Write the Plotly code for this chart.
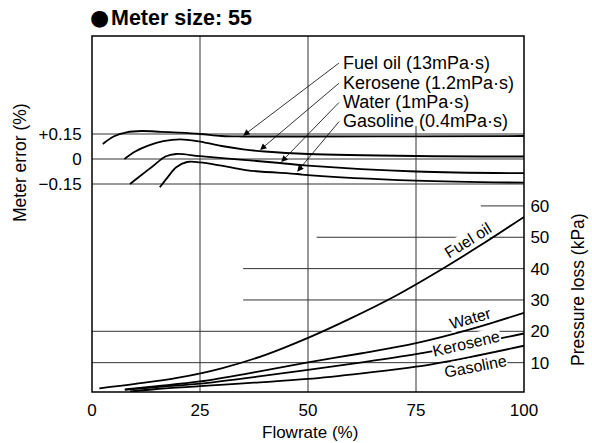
import plotly.graph_objects as go

# ---------------- data ----------------
# Meter error (%) vs flowrate (%)
fuel_err_x = [2.5, 5, 8, 11.5, 16, 20, 25, 30, 35, 50, 75, 100]
fuel_err_y = [0.09, 0.135, 0.16, 0.168, 0.163, 0.158, 0.15, 0.138, 0.135, 0.135, 0.136, 0.138]

kero_err_x = [7.5, 10, 13, 16.5, 20.5, 25, 30, 35, 40, 50, 75, 100]
kero_err_y = [0.0, 0.045, 0.08, 0.107, 0.118, 0.104, 0.078, 0.058, 0.045, 0.03, 0.018, 0.015]

water_err_x = [8.8, 11, 14, 17, 19.5, 25, 35, 43.5, 50, 75, 100]
water_err_y = [-0.15, -0.105, -0.045, 0.015, 0.03, 0.017, -0.005, -0.024, -0.04, -0.075, -0.085]

gas_err_x = [15.7, 17.5, 19.5, 22, 25, 30, 36, 47.5, 50, 75, 100]
gas_err_y = [-0.17, -0.11, -0.05, -0.018, -0.02, -0.04, -0.068, -0.09, -0.097, -0.13, -0.142]

# Pressure loss (kPa) vs flowrate (%)
fuel_pl_x = [1.7, 10, 20, 30, 40, 50, 60, 70, 80, 90, 100]
fuel_pl_y = [1.8, 3.2, 5.2, 8.2, 12.4, 17.9, 24.2, 31.1, 39.0, 47.5, 56.5]

water_pl_x = [7.6, 15, 25, 37.5, 50, 62.5, 75, 87.5, 100]
water_pl_y = [1.5, 2.5, 4.0, 6.9, 10.1, 13.0, 16.2, 20.6, 25.9]

kero_pl_x = [7.6, 15, 25, 37.5, 50, 62.5, 75, 87.5, 100]
kero_pl_y = [1.3, 2.2, 3.3, 5.4, 7.7, 10.1, 12.7, 15.8, 19.3]

gas_pl_x = [8.8, 15, 25, 37.5, 50, 62.5, 75, 87.5, 100]
gas_pl_y = [0.8, 1.6, 2.5, 3.6, 4.8, 6.6, 8.7, 11.8, 15.4]

x_ticks = [0, 25, 50, 75, 100]
err_ticks = [-0.15, 0, 0.15]
err_ticktext = ["\u22120.15", "0", "+0.15"]
pl_ticks = [10, 20, 30, 40, 50, 60]

# pressure guide lines: (value, start flowrate)
pl_guides = [(10, 0), (20, 0), (30, 35), (40, 35), (50, 52), (60, 90)]

FONT = "Liberation Sans, Arial, Helvetica, sans-serif"

fig = go.Figure()

line_style = dict(color="black", width=1.8, shape="spline", smoothing=1.0)
for xs, ys in [(fuel_err_x, fuel_err_y), (kero_err_x, kero_err_y),
               (water_err_x, water_err_y), (gas_err_x, gas_err_y)]:
    fig.add_trace(go.Scatter(x=xs, y=ys, mode="lines", line=line_style,
                             yaxis="y", showlegend=False, hoverinfo="skip"))
for xs, ys in [(fuel_pl_x, fuel_pl_y), (water_pl_x, water_pl_y),
               (kero_pl_x, kero_pl_y), (gas_pl_x, gas_pl_y)]:
    fig.add_trace(go.Scatter(x=xs, y=ys, mode="lines", line=line_style,
                             yaxis="y2", showlegend=False, hoverinfo="skip"))

shapes = []
grid = dict(color="#333333", width=1)
# vertical lines
for v in [25, 50]:
    shapes.append(dict(type="line", xref="x", yref="paper", x0=v, x1=v, y0=0, y1=1,
                       line=grid, layer="below"))
shapes.append(dict(type="line", xref="x", yref="y", x0=75, x1=75, y0=-1.398, y1=0.198,
                   line=grid, layer="below"))
# meter error guide lines
for v in err_ticks:
    shapes.append(dict(type="line", xref="x", yref="y", x0=0, x1=100, y0=v, y1=v,
                       line=grid, layer="below"))
# pressure guide lines
for v, s in pl_guides:
    shapes.append(dict(type="line", xref="x", yref="y2", x0=s, x1=100, y0=v, y1=v,
                       line=grid, layer="below"))
# frame
shapes.append(dict(type="rect", xref="paper", yref="paper", x0=0, x1=1, y0=0, y1=1,
                   line=dict(color="black", width=1.5)))

annotations = []
# title
annotations.append(dict(text="\u25cf", xref="paper", yref="paper",
                        x=0.0175, y=1.052, xanchor="center", yanchor="middle", showarrow=False,
                        font=dict(family="DejaVu Sans", size=22, color="black")))
annotations.append(dict(text="<b>Meter size: 55</b>",
                        xref="paper", yref="paper",
                        x=0.039, y=1.0506, xanchor="left", yanchor="middle", showarrow=False,
                        font=dict(family=FONT, size=21.5, color="black")))
# axis titles
annotations.append(dict(text="Flowrate (%)", xref="paper", yref="paper", x=0.505, y=-0.115,
                        xanchor="center", yanchor="middle", showarrow=False,
                        font=dict(family=FONT, size=17, color="black")))
annotations.append(dict(text="Meter error (%)", xref="paper", yref="paper", x=-0.1667, y=0.646,
                        xanchor="center", yanchor="middle", showarrow=False, textangle=-90,
                        font=dict(family=FONT, size=17.5, color="black")))
annotations.append(dict(text="Pressure loss (kPa)", xref="paper", yref="paper", x=1.125, y=0.2865,
                        xanchor="center", yanchor="middle", showarrow=False, textangle=-90,
                        font=dict(family=FONT, size=17.5, color="black")))

# upper legend texts with arrows
legend_texts = ["Fuel oil (13mPa\u00b7s)", "Kerosene (1.2mPa\u00b7s)",
                "Water (1mPa\u00b7s)", "Gasoline (0.4mPa\u00b7s)"]
legend_y = [0.576, 0.459, 0.342, 0.226]
arrow_tail_y = [0.582, 0.462, 0.348, 0.234]
arrow_tip = [(35.0, 0.140), (38.9, 0.054), (43.8, -0.018), (47.5, -0.076)]
for t, ly, ty, (tx, tyy) in zip(legend_texts, legend_y, arrow_tail_y, arrow_tip):
    annotations.append(dict(text=t, xref="x", yref="y", x=57.6, y=ly, xanchor="left",
                            yanchor="middle", showarrow=False,
                            font=dict(family=FONT, size=18, color="black")))
    annotations.append(dict(text="", xref="x", yref="y", x=tx, y=tyy, axref="x", ayref="y",
                            ax=57.5, ay=ty, showarrow=True, arrowhead=2, arrowsize=1.6,
                            arrowwidth=0.8, arrowcolor="black", standoff=0, startstandoff=0))

# curve labels on pressure-loss curves
curve_labels = [("Fuel oil", 87.0, 49.1, -32), ("Water", 87.5, 24.2, -16),
                ("Kerosene", 86.7, 16.0, -13), ("Gasoline", 88.7, 8.7, -11)]
for t, x, y, a in curve_labels:
    annotations.append(dict(text=t, xref="x", yref="y2", x=x, y=y, xanchor="center",
                            yanchor="middle", showarrow=False, textangle=a, bgcolor="white",
                            borderpad=0, font=dict(family=FONT, size=16, color="black")))

fig.update_layout(
    width=592, height=443,
    margin=dict(l=92, r=68, t=36, b=51),
    paper_bgcolor="white", plot_bgcolor="white",
    font=dict(family=FONT, size=17, color="black"),
    xaxis=dict(range=[0, 100], tickvals=x_ticks, showgrid=False, zeroline=False,
               showline=False, ticks="outside", ticklen=3, tickcolor="rgba(0,0,0,0)",
               tickfont=dict(family=FONT, size=17, color="black"), fixedrange=True),
    yaxis=dict(range=[-1.398, 0.738], tickvals=err_ticks, ticktext=err_ticktext,
               showgrid=False, zeroline=False, showline=False, ticks="outside", ticklen=6,
               tickcolor="rgba(0,0,0,0)", tickfont=dict(family=FONT, size=17, color="black")),
    yaxis2=dict(range=[0.64, 114.2], tickvals=pl_ticks, overlaying="y", side="right",
                showgrid=False, zeroline=False, showline=False, ticks="outside", ticklen=2,
                tickcolor="rgba(0,0,0,0)", tickfont=dict(family=FONT, size=17, color="black")),
    shapes=shapes,
    annotations=annotations,
    showlegend=False,
)

fig.write_html("out.html")
